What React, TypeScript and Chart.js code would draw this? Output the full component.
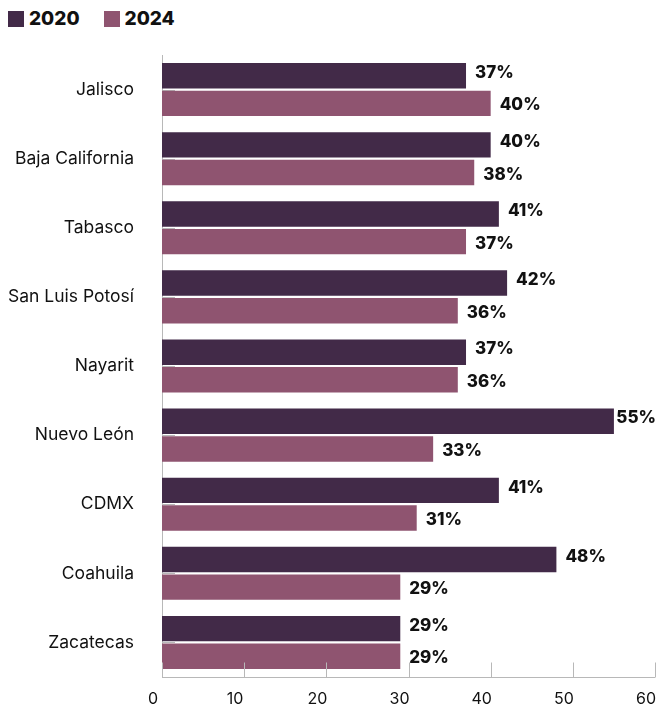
import React, { useEffect, useRef } from "react";
import { Chart, registerables } from "chart.js";

Chart.register(...registerables);

const categories = ["Jalisco", "Baja California", "Tabasco", "San Luis Potosí", "Nayarit", "Nuevo León", "CDMX", "Coahuila", "Zacatecas"];
const values2020 = [37, 40, 41, 42, 37, 55, 41, 48, 29];
const values2024 = [40, 38, 37, 36, 36, 33, 31, 29, 29];
const seriesNames = ["2020", "2024"];
const colors = ["#422a48", "#8f5470"];
const xTicks = [0, 10, 20, 30, 40, 50, 60];

const FONT = "Inter, 'DejaVu Sans', sans-serif";

const customPlugin = {
  id: "custom",
  beforeDatasetsDraw(chart: any) {
    const { ctx, chartArea, scales } = chart;
    const y = scales.y;
    ctx.save();
    ctx.strokeStyle = "#b8b8b8";
    ctx.lineWidth = 1;
    categories.forEach((_, i) => {
      const py = Math.round(y.getPixelForValue(i)) + 0.5;
      ctx.beginPath();
      ctx.moveTo(chartArea.left, py);
      ctx.lineTo(chartArea.left + 13, py);
      ctx.stroke();
    });
    ctx.beginPath();
    ctx.moveTo(Math.round(chartArea.left) + 0.5, chartArea.top);
    ctx.lineTo(Math.round(chartArea.left) + 0.5, chartArea.bottom);
    ctx.stroke();
    ctx.restore();
  },
  afterDatasetsDraw(chart: any) {
    const { ctx, chartArea, scales, width } = chart;
    const x = scales.x;
    ctx.save();
    ctx.strokeStyle = "#b8b8b8";
    ctx.lineWidth = 1;
    const by = Math.round(chartArea.bottom) + 0.5;
    ctx.beginPath();
    ctx.moveTo(chartArea.left, by);
    ctx.lineTo(chartArea.right, by);
    ctx.stroke();
    xTicks.forEach((t) => {
      const px = Math.round(x.getPixelForValue(t)) + 0.5;
      ctx.beginPath();
      ctx.moveTo(px, by);
      ctx.lineTo(px, by - 15);
      ctx.stroke();
    });
    ctx.fillStyle = "#111";
    ctx.font = `400 16px ${FONT}`;
    ctx.textAlign = "center";
    ctx.textBaseline = "middle";
    xTicks.forEach((t) => {
      const px = x.getPixelForValue(t) - 9;
      ctx.fillText(String(t), px, by + 22);
    });
    ctx.font = `800 17px ${FONT}`;
    ctx.textAlign = "left";
    const dy = [-3, 2];
    chart.data.datasets.forEach((ds: any, di: number) => {
      const meta = chart.getDatasetMeta(di);
      meta.data.forEach((bar: any, i: number) => {
        const txt = ds.data[i] + "%";
        const w = ctx.measureText(txt).width;
        const tx = Math.min(bar.x + 9, width - w - 1);
        ctx.fillText(txt, tx, bar.y + dy[di]);
      });
    });
    ctx.restore();
  },
};

export default function App() {
  const ref = useRef<HTMLCanvasElement>(null);
  useEffect(() => {
    if (!ref.current) return;
    const chart = new Chart(ref.current, {
      type: "bar",
      data: {
        labels: categories,
        datasets: [
          { label: seriesNames[0], data: values2020, backgroundColor: colors[0], barPercentage: 0.92, categoryPercentage: 0.8 },
          { label: seriesNames[1], data: values2024, backgroundColor: colors[1], barPercentage: 0.92, categoryPercentage: 0.8 },
        ],
      },
      options: {
        indexAxis: "y",
        animation: false,
        responsive: false,
        maintainAspectRatio: false,
        layout: { padding: { top: 55, right: 2, bottom: 30, left: 0 } },
        plugins: { legend: { display: false }, tooltip: { enabled: false } },
        scales: {
          x: {
            display: false,
            min: 0,
            max: 60,
            ticks: { stepSize: 10 },
          },
          y: {
            ticks: { color: "#111", font: { family: FONT, size: 17.5, weight: "400" as any }, padding: 28 },
            grid: { display: false, drawTicks: false },
            border: { display: false },
            afterFit: (s: any) => {
              s.width = 162;
              s.paddingTop = 0;
              s.paddingBottom = 0;
            },
          },
        },
      },
      plugins: [customPlugin],
    });
    return () => chart.destroy();
  }, []);

  return (
    <div style={{ position: "fixed", left: 0, top: 0, width: 657, height: 707, background: "#fff" }}>
      <div style={{ position: "absolute", left: 8, top: 7, display: "flex", alignItems: "center", fontFamily: FONT, fontWeight: 800, fontSize: 19, color: "#111" }}>
        {seriesNames.map((n, i) => (
          <div key={n} style={{ display: "flex", alignItems: "center", marginRight: 24 }}>
            <span style={{ display: "inline-block", width: 16, height: 16, background: colors[i], marginRight: 5 }} />
            <span>{n}</span>
          </div>
        ))}
      </div>
      <canvas ref={ref} width={657} height={707} style={{ position: "absolute", left: 0, top: 0 }} />
    </div>
  );
}
